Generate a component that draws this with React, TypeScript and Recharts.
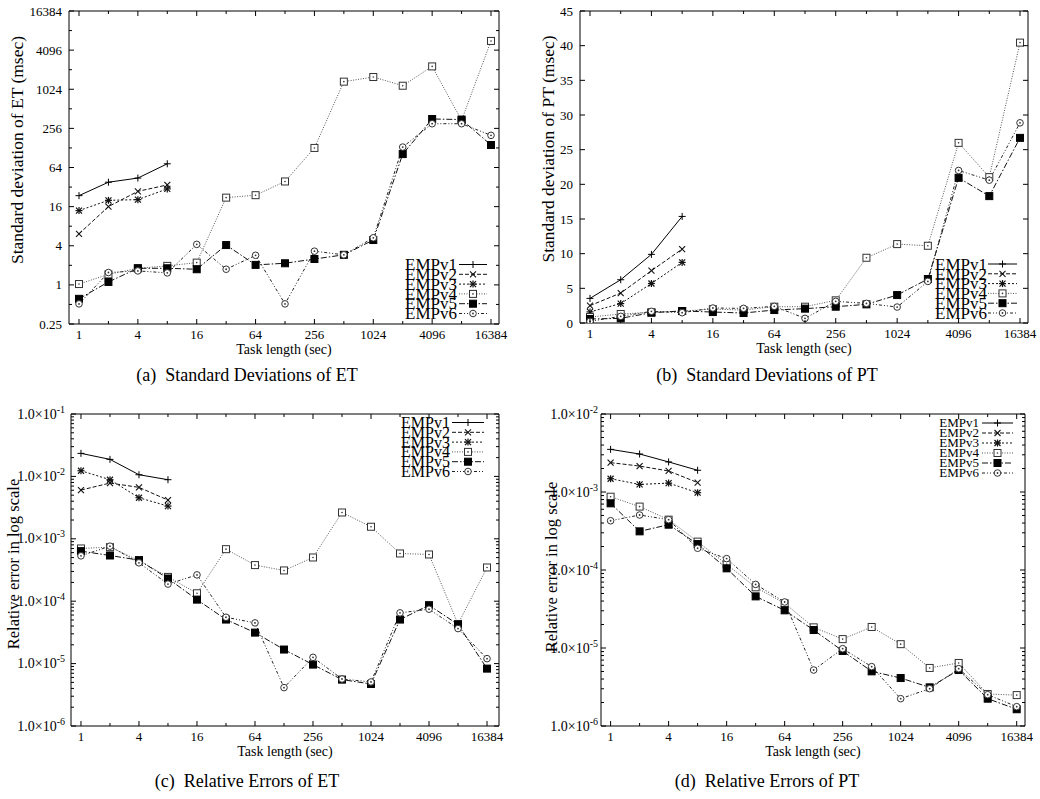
import React from 'react';
import { LineChart, Line, XAxis, YAxis, Legend, ReferenceArea } from 'recharts';

const FONT = '"Liberation Serif", "Times New Roman", serif';

const taskLengths = [1, 2, 4, 8, 16, 32, 64, 128, 256, 512, 1024, 2048, 4096, 8192, 16384];
const seriesNames = ['EMPv1', 'EMPv2', 'EMPv3', 'EMPv4', 'EMPv5', 'EMPv6'];

// (a) Standard deviations of ET (msec)
const etStdV1 = [23.6, 38, 44, 73];
const etStdV2 = [6.1, 16, 27.5, 34.5];
const etStdV3 = [13.9, 20, 20.5, 30];
const etStdV4 = [1.03, 1.45, 1.8, 1.96, 2.2, 22, 24, 39, 128, 1340, 1580, 1160, 2300, 340, 5670];
const etStdV5 = [0.61, 1.11, 1.8, 1.8, 1.74, 4.1, 2.03, 2.15, 2.5, 2.9, 4.9, 103, 357, 350, 142];
const etStdV6 = [0.51, 1.55, 1.64, 1.53, 4.2, 1.74, 2.85, 0.51, 3.3, 2.9, 5.3, 132, 302, 302, 200];

// (b) Standard deviations of PT (msec)
const ptStdV1 = [3.55, 6.24, 9.9, 15.37];
const ptStdV2 = [2.5, 4.32, 7.54, 10.66];
const ptStdV3 = [1.6, 2.8, 5.7, 8.74];
const ptStdV4 = [0.86, 1.3, 1.54, 1.73, 2.0, 1.87, 2.35, 2.35, 3.27, 9.41, 11.38, 11.14, 25.98, 21.04, 40.44];
const ptStdV5 = [0.58, 0.67, 1.49, 1.73, 1.58, 1.44, 1.87, 2.07, 2.35, 2.69, 4.03, 6.34, 20.94, 18.3, 26.7];
const ptStdV6 = [0.24, 0.96, 1.68, 1.49, 2.16, 2.11, 2.4, 0.67, 3.12, 2.83, 2.3, 6.0, 22.0, 20.6, 28.87];

// (c) Relative errors of ET
const etErrV1 = [0.0234, 0.01875, 0.01064, 0.00885];
const etErrV2 = [0.00604, 0.00782, 0.00667, 0.00417];
const etErrV3 = [0.01233, 0.00885, 0.00455, 0.00334];
const etErrV4 = [0.0007, 0.000735, 0.000449, 0.000245, 0.000134, 0.000682, 0.000379, 0.000311, 0.000502, 0.00264, 0.00156, 0.000582, 0.000561, 0.0000432, 0.000347];
const etErrV5 = [0.000634, 0.00054, 0.000455, 0.000231, 0.000106, 0.0000508, 0.0000314, 0.0000168, 0.00000964, 0.00000554, 0.00000472, 0.0000508, 0.0000863, 0.0000423, 0.00000831];
const etErrV6 = [0.000533, 0.000762, 0.000412, 0.000188, 0.000264, 0.0000553, 0.0000449, 0.00000412, 0.0000126, 0.00000567, 0.00000508, 0.000065, 0.0000745, 0.0000364, 0.000012];

// (d) Relative errors of PT
const ptErrV1 = [0.00352, 0.00307, 0.00243, 0.0019];
const ptErrV2 = [0.00238, 0.00215, 0.00186, 0.00132];
const ptErrV3 = [0.00148, 0.00125, 0.0013, 0.00098];
const ptErrV4 = [0.00087, 0.00065, 0.000442, 0.000231, 0.000118, 0.00006, 0.0000374, 0.0000184, 0.000013, 0.0000186, 0.0000112, 0.00000555, 0.00000643, 0.00000257, 0.00000249];
const ptErrV5 = [0.000716, 0.000313, 0.000381, 0.000215, 0.000105, 0.0000459, 0.0000304, 0.000017, 0.00000916, 0.00000502, 0.00000412, 0.00000313, 0.00000522, 0.00000224, 0.00000164];
const ptErrV6 = [0.000428, 0.000507, 0.000442, 0.00019, 0.00014, 0.0000654, 0.0000389, 0.00000522, 0.0000098, 0.00000577, 0.00000224, 0.00000301, 0.00000543, 0.00000252, 0.00000177];

// tick values
const log2Ticks = [0.25, 0.5, 1, 2, 4, 8, 16, 32, 64, 128, 256, 512, 1024, 2048, 4096, 8192, 16384];
const linearTicks = [0, 5, 10, 15, 20, 25, 30, 35, 40, 45];
const decadeMantissas = [1, 2, 3, 4, 5, 6, 7, 8, 9];
const makeDecadeTicks = (lo: number, hi: number) => {
  const out: number[] = [];
  for (let e = lo; e < hi; e++) decadeMantissas.forEach((m) => out.push(m * Math.pow(10, e)));
  out.push(Math.pow(10, hi));
  return out;
};
const etErrTicks = makeDecadeTicks(-6, -1);
const ptErrTicks = makeDecadeTicks(-6, -2);

type Style = { dash?: string; marker: string; color: string };
const STYLES: Style[] = [
  { dash: undefined, marker: 'plus', color: '#000' },
  { dash: '4 2', marker: 'cross', color: '#111' },
  { dash: '2 2', marker: 'star', color: '#111' },
  { dash: '1 1.5', marker: 'openSquare', color: '#555' },
  { dash: '6 2 1.5 2', marker: 'filledSquare', color: '#111' },
  { dash: '3 2 1 2 1 2', marker: 'openCircle', color: '#222' },
];

function Marker({ kind, cx, cy, color }: { kind: string; cx: number; cy: number; color: string }) {
  const s = 3.5;
  switch (kind) {
    case 'plus':
      return (
        <g stroke={color} strokeWidth={1}>
          <line x1={cx - s} y1={cy} x2={cx + s} y2={cy} />
          <line x1={cx} y1={cy - s} x2={cx} y2={cy + s} />
        </g>
      );
    case 'cross':
      return (
        <g stroke={color} strokeWidth={1.1}>
          <line x1={cx - 3} y1={cy - 3} x2={cx + 3} y2={cy + 3} />
          <line x1={cx - 3} y1={cy + 3} x2={cx + 3} y2={cy - 3} />
        </g>
      );
    case 'star':
      return (
        <g stroke={color} strokeWidth={1.2}>
          <line x1={cx - 3} y1={cy - 3} x2={cx + 3} y2={cy + 3} />
          <line x1={cx - 3} y1={cy + 3} x2={cx + 3} y2={cy - 3} />
          <line x1={cx - s} y1={cy} x2={cx + s} y2={cy} />
          <line x1={cx} y1={cy - s} x2={cx} y2={cy + s} />
        </g>
      );
    case 'openSquare':
      return (
        <g>
          <rect x={cx - s} y={cy - s} width={2 * s} height={2 * s} fill="#fff" stroke="#333" strokeWidth={1} />
          <circle cx={cx} cy={cy} r={0.8} fill="#333" />
        </g>
      );
    case 'filledSquare':
      return <rect x={cx - s} y={cy - s} width={2 * s} height={2 * s} fill="#000" stroke="#000" />;
    default:
      return (
        <g>
          <circle cx={cx} cy={cy} r={3.3} fill="#fff" stroke="#333" strokeWidth={1} />
          <circle cx={cx} cy={cy} r={0.9} fill="#333" />
        </g>
      );
  }
}

const makeDot = (st: Style) => (props: any) => {
  const { cx, cy, index, value } = props;
  if (cx == null || cy == null || value == null || Number.isNaN(cy)) return <g key={`e${index}`} />;
  return <Marker key={`m${index}`} kind={st.marker} cx={cx} cy={cy} color={st.color} />;
};

const isEvenPow2 = (v: number) => Math.round(Math.log2(v)) % 2 === 0;
const isDecade = (v: number) => Math.abs(Math.log10(v) - Math.round(Math.log10(v))) < 1e-9;

const makeXTick = (plotH: number, fs: number, dy: number) => (props: any) => {
  const { x, y, payload } = props;
  const v = payload.value;
  const major = isEvenPow2(v);
  const len = major ? 5 : 3;
  return (
    <g>
      <line x1={x} y1={y} x2={x} y2={y - len} stroke="#000" />
      <line x1={x} y1={y - plotH} x2={x} y2={y - plotH + len} stroke="#000" />
      {major && (
        <text x={x} y={y + dy} textAnchor="middle" fontSize={fs} fontFamily={FONT} fill="#000">
          {String(v)}
        </text>
      )}
    </g>
  );
};

const makeYTick = (plotW: number, isMajor: (v: number) => boolean, fmt: (v: number) => any, gap: number, fs: number) => (props: any) => {
  const { x, y, payload } = props;
  const v = payload.value;
  const major = isMajor(v);
  const len = major ? 5 : 3;
  return (
    <g>
      <line x1={x} y1={y} x2={x + len} y2={y} stroke="#000" />
      <line x1={x + plotW} y1={y} x2={x + plotW - len} y2={y} stroke="#000" />
      {major && (
        <text x={x - gap} y={y + 4.5} textAnchor="end" fontSize={fs} fontFamily={FONT} fill="#000">
          {fmt(v)}
        </text>
      )}
    </g>
  );
};

const fmtPow2 = (v: number) => String(v);
const fmtLinear = (v: number) => String(v);
const fmtSci = (v: number) => {
  const e = Math.round(Math.log10(v));
  return (
    <>
      <tspan>1.0×10</tspan>
      <tspan dy={-6} fontSize={10}>{`-${-e}`}</tspan>
    </>
  );
};

type LegendCfg = { textEnd: number; lineX1: number; lineX2: number; row0: number; rowGap: number; fs: number };

type PanelCfg = {
  left: number; top: number; width: number; height: number;
  yAxisW: number; marginRight: number; marginTop: number; xAxisH: number;
  xDomain: [number, number];
  yScale: 'log' | 'linear'; yDomain: [number, number]; yTicks: number[];
  yMajor: (v: number) => boolean; yFmt: (v: number) => any; yGap: number; yTickFs: number;
  series: number[][];
  yLabel: string; yLabelX: number; yLabelY: number; yLabelFs: number;
  legend: LegendCfg;
  caption: string; captionX: number; captionY: number;
};

function Panel(p: PanelCfg) {
  const plotW = p.width - p.yAxisW - p.marginRight;
  const plotH = p.height - p.marginTop - p.xAxisH;
  const data = taskLengths.map((x, i) => {
    const row: any = { x };
    p.series.forEach((s, k) => {
      row[`s${k}`] = s[i] === undefined ? null : s[i];
    });
    return row;
  });
  const lg = p.legend;
  return (
    <div style={{ position: 'absolute', left: p.left, top: p.top, width: p.width, height: p.height }}>
      <LineChart width={p.width} height={p.height} data={data} margin={{ top: p.marginTop, right: p.marginRight, bottom: 0, left: 0 }}>
        <XAxis
          dataKey="x" type="number" scale="log" domain={p.xDomain} ticks={taskLengths} interval={0}
          allowDataOverflow height={p.xAxisH} tickSize={0} tickMargin={0} axisLine={false} tickLine={false}
          tick={makeXTick(plotH, 13, 14.5)}
          label={{
            content: () => (
              <text x={p.yAxisW + plotW / 2} y={p.marginTop + plotH + 30} textAnchor="middle" fontSize={14} fontFamily={FONT} fill="#000">
                Task length (sec)
              </text>
            ),
          }}
        />
        <YAxis
          type="number" scale={p.yScale} domain={p.yDomain} ticks={p.yTicks} interval={0}
          allowDataOverflow width={p.yAxisW} tickSize={0} tickMargin={0} axisLine={false} tickLine={false}
          tick={makeYTick(plotW, p.yMajor, p.yFmt, p.yGap, p.yTickFs)}
          label={{
            content: () => (
              <text
                x={p.yLabelX} y={p.yLabelY} textAnchor="middle" fontSize={p.yLabelFs} fontFamily={FONT} fill="#000"
                transform={`rotate(-90 ${p.yLabelX} ${p.yLabelY})`}
              >
                {p.yLabel}
              </text>
            ),
          }}
        />
        <ReferenceArea x1={p.xDomain[0]} x2={p.xDomain[1]} y1={p.yDomain[0]} y2={p.yDomain[1]} fill="none" fillOpacity={0} stroke="#000" strokeWidth={1} ifOverflow="visible" />
        {p.series.map((_, k) => (
          <Line
            key={k} dataKey={`s${k}`} name={seriesNames[k]} stroke={STYLES[k].color} strokeWidth={1}
            strokeDasharray={STYLES[k].dash} dot={makeDot(STYLES[k])} activeDot={false}
            isAnimationActive={false} connectNulls={false} legendType="line"
          />
        ))}
        <Legend
          layout="vertical" align="center" verticalAlign="middle"
          wrapperStyle={{ left: 0, top: 0, width: p.width, height: p.height, pointerEvents: 'none' }}
          content={(lp: any) => {
            const items = (lp && lp.payload && lp.payload.length ? lp.payload.map((e: any) => String(e.value)) : seriesNames);
            return (
              <svg width={p.width} height={p.height} style={{ position: 'absolute', left: 0, top: 0, overflow: 'visible' }}>
                {items.map((name: string, k: number) => {
                  const cy = lg.row0 + k * lg.rowGap;
                  const st = STYLES[k];
                  return (
                    <g key={name}>
                      <text x={lg.textEnd} y={cy + lg.fs * 0.34} textAnchor="end" fontSize={lg.fs} fontFamily={FONT} fill="#000">
                        {name}
                      </text>
                      <line x1={lg.lineX1} y1={cy} x2={lg.lineX2} y2={cy} stroke={st.color} strokeWidth={1} strokeDasharray={st.dash} />
                      <Marker kind={st.marker} cx={(lg.lineX1 + lg.lineX2) / 2} cy={cy} color={st.color} />
                    </g>
                  );
                })}
              </svg>
            );
          }}
        />
      </LineChart>
      <div
        style={{
          position: 'absolute', left: p.captionX - 200, width: 400, top: p.captionY - 12, height: 24,
          textAlign: 'center', fontFamily: FONT, fontSize: 18, lineHeight: '24px', color: '#000', whiteSpace: 'pre',
        }}
      >
        {p.caption}
      </div>
    </div>
  );
}

export default function App() {
  return (
    <div style={{ position: 'absolute', left: 0, top: 0, width: 1040, height: 799, background: '#fff', overflow: 'hidden' }}>
      <Panel
        left={0} top={0} width={520} height={400}
        yAxisW={69} marginRight={21} marginTop={11} xAxisH={76}
        xDomain={[0.79, 19780]}
        yScale="log" yDomain={[0.25, 16384]} yTicks={log2Ticks} yMajor={isEvenPow2} yFmt={fmtPow2} yGap={7} yTickFs={13}
        series={[etStdV1, etStdV2, etStdV3, etStdV4, etStdV5, etStdV6]}
        yLabel="Standard deviation of ET (msec)" yLabelX={23} yLabelY={150} yLabelFs={17.5}
        legend={{ textEnd: 457, lineX1: 459, lineX2: 487, row0: 264.5, rowGap: 9.8, fs: 17 }}
        caption="(a)  Standard Deviations of ET" captionX={247} captionY={375}
      />
      <Panel
        left={520} top={0} width={520} height={400}
        yAxisW={60} marginRight={12} marginTop={11} xAxisH={77}
        xDomain={[0.798, 19620]}
        yScale="linear" yDomain={[0, 45]} yTicks={linearTicks} yMajor={() => true} yFmt={fmtLinear} yGap={7} yTickFs={13}
        series={[ptStdV1, ptStdV2, ptStdV3, ptStdV4, ptStdV5, ptStdV6]}
        yLabel="Standard deviation of PT (msec)" yLabelX={34} yLabelY={149} yLabelFs={17.5}
        legend={{ textEnd: 467, lineX1: 468, lineX2: 497, row0: 264, rowGap: 9.8, fs: 17 }}
        caption="(b)  Standard Deviations of PT" captionX={247} captionY={375}
      />
      <Panel
        left={0} top={400} width={520} height={399}
        yAxisW={71} marginRight={21} marginTop={14} xAxisH={73}
        xDomain={[0.788, 21817]}
        yScale="log" yDomain={[1e-6, 1e-1]} yTicks={etErrTicks} yMajor={isDecade} yFmt={fmtSci} yGap={6} yTickFs={14}
        series={[etErrV1, etErrV2, etErrV3, etErrV4, etErrV5, etErrV6]}
        yLabel="Relative error in log scale" yLabelX={19} yLabelY={164} yLabelFs={16.5}
        legend={{ textEnd: 450, lineX1: 452, lineX2: 484, row0: 22.5, rowGap: 9.8, fs: 16 }}
        caption="(c)  Relative Errors of ET" captionX={247} captionY={381}
      />
      <Panel
        left={520} top={400} width={520} height={399}
        yAxisW={81} marginRight={15} marginTop={14} xAxisH={73}
        xDomain={[0.795, 19980]}
        yScale="log" yDomain={[1e-6, 1e-2]} yTicks={ptErrTicks} yMajor={isDecade} yFmt={fmtSci} yGap={3} yTickFs={14}
        series={[ptErrV1, ptErrV2, ptErrV3, ptErrV4, ptErrV5, ptErrV6]}
        yLabel="Relative error in log scale" yLabelX={37} yLabelY={167} yLabelFs={16.5}
        legend={{ textEnd: 459, lineX1: 462, lineX2: 493, row0: 23, rowGap: 10, fs: 13 }}
        caption="(d)  Relative Errors of PT" captionX={247} captionY={381}
      />
    </div>
  );
}
